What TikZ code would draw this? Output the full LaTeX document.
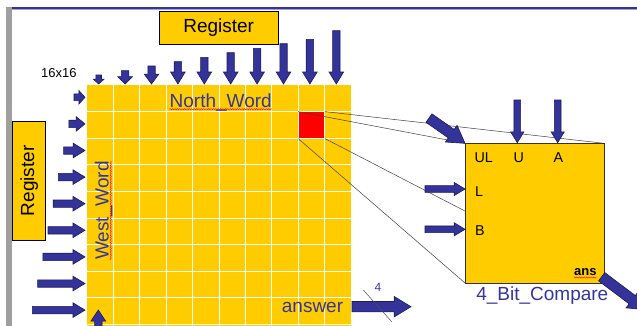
\documentclass[tikz,border=0pt]{standalone}
\usepackage{fontspec}
\setmainfont{Liberation Sans}
\usetikzlibrary{decorations.pathmorphing}

\definecolor{cellyellow}{HTML}{FFCC00}
\definecolor{arrowblue}{HTML}{333399}
\definecolor{arrowedge}{HTML}{1C1C5C}
\definecolor{textblue}{HTML}{3535A0}

\newcommand{\fatarrow}[4][1]{%
  \pgfmathsetmacro{\falen}{#4}%
  \pgfmathsetmacro{\fasc}{#1*min(1,\falen/12)}%
  \pgfmathsetmacro{\fahl}{min(12*\fasc,0.55*\falen)}%
  \pgfmathsetmacro{\fasw}{3.7*\fasc}%
  \pgfmathsetmacro{\fahw}{7.3*\fasc}%
  \begin{scope}[shift={#2},rotate=#3]
    \filldraw[fill=arrowblue,draw=arrowedge,line width=.6pt,line join=miter]
      (0,0) -- (-\fahl,\fahw) -- (-\fahl,\fasw) -- (-\falen,\fasw) -- (-\falen,-\fasw)
      -- (-\fahl,-\fasw) -- (-\fahl,-\fahw) -- cycle;
  \end{scope}}

\tikzset{
  register/.style={draw=black,fill=cellyellow,line width=.8pt,inner sep=0pt},
  wordlabel/.style={text=textblue,inner sep=0pt},
  port/.style={font=\fontsize{14.3}{16}\selectfont,inner sep=0pt},
  squiggle/.style={draw=red,line width=.4pt,decorate,decoration={snake,amplitude=.6pt,segment length=2.4pt}}
}

\begin{document}
\begin{tikzpicture}[x=1pt,y=-1pt,font=\fontsize{19}{22}\selectfont]

	\clip (0,0) rectangle (637,325);
	\fill[white] (0,0) rectangle (637,325);
	\fill[gray!75] (6,7) rectangle (12,330);
	\fill[arrowblue] (12,7) rectangle (640,8.6);
	\fill[arrowblue!45] (12,8.6) rectangle (640,9.6);

	\node (regtop) [register,minimum width=119.3pt,minimum height=33.3pt] at (218.7,27.7) {Register};
	\node (regleft) [register,rotate=90,minimum width=119.7pt,minimum height=33pt] at (29.2,180.9) {Register};
	\node (size) [font=\fontsize{13}{15}\selectfont,anchor=base] at (58.8,77.3) {16x16};

	\fill[cellyellow] (87,85) rectangle (351,340);
	\node (redcell) [fill=red,inner sep=0pt,minimum width=26.4pt,minimum height=26.6pt,anchor=north west] at (298.2,111.6) {};
	\foreach \i in {1,...,9}
		\draw[white,line width=.8pt] ({87+26.4*\i},85) -- ({87+26.4*\i},340);
	\foreach \j in {1,...,10}
		\draw[white,line width=.8pt] (87,{85+26.6*\j}) -- (351,{85+26.6*\j});

	\node (north) [wordlabel,anchor=base] at (220.7,107) {North\_Word};
	\node (west) [wordlabel,rotate=90,anchor=base] at (108.6,210.5) {West\_Word};
	\node (answer) [wordlabel,anchor=base] at (312.5,312.5) {answer};
	\draw[squiggle] ([yshift=-2.2pt]north.base west) -- ([yshift=-2.2pt]north.base east);
	\draw[squiggle] ([xshift=2.2pt]west.base west) -- ([xshift=2.2pt]west.base east);

	\foreach \arrlen [count=\i] in {9,13.3,18,22.3,26.7,31.3,35.7,40.3,44.7,53.3}
		{\fatarrow{({87+26.4*(\i-.5)-1.5},84)}{-90}{\arrlen}}
	\foreach \i in {1,...,9}
		{\fatarrow{(85,{85+26.6*(\i-.5)-1})}{0}{11+5.2*(\i-1)}}
	\fatarrow{(98.3,310)}{90}{20}

	\coordinate (cnw) at (465,143.3);
	\coordinate (cne) at (604,143.3);
	\coordinate (csw) at (465,283);
	\coordinate (cse) at (604,283);
	\draw[black!75,line width=.5pt] (redcell.north west) -- (cnw);
	\draw[black!75,line width=.5pt] (redcell.north east) -- (cne);
	\draw[black!75,line width=.5pt] (redcell.south west) -- (csw);
	\draw[black!75,line width=.5pt] (redcell.south east) -- (cse);
	\filldraw[fill=cellyellow,draw=black!80,line width=.8pt] (cnw) rectangle (cse);

	\node (pUL) [port,anchor=base west] at (474.3,162.7) {UL};
	\node (pU) [port,anchor=base] at (518.8,162.7) {U};
	\node (pA) [port,anchor=base] at (558.3,162.7) {A};
	\node (pL) [port,anchor=base west] at (475,196) {L};
	\node (pB) [port,anchor=base west] at (475,235) {B};
	\node (pans) [port,font=\fontsize{13}{15}\selectfont\bfseries,anchor=base] at (585.3,275) {ans};
	\draw[squiggle] ([yshift=-2.5pt]pans.base west) -- ([yshift=-2.5pt]pans.base east);
	\node (cmpname) [wordlabel,anchor=base] at (542.3,300.5) {4\_Bit\_Compare};

	\fatarrow[1.4]{(cnw)}{-35}{44}
	\fatarrow[.9]{(517.3,142.7)}{-90}{42.7}
	\fatarrow[.9]{(557.7,142.7)}{-90}{42.7}
	\fatarrow[.9]{(465,189)}{0}{40}
	\fatarrow[.9]{(465,229.3)}{0}{40}
	\fatarrow[1.4]{(645.6,309.8)}{-37}{55}

	\fatarrow[1.4]{(411,306.7)}{0}{59}
	\coordinate (bus1) at (363.3,290);
	\coordinate (bus2) at (391.7,321.7);
	\draw[black!70,line width=.5pt] (bus1) -- (bus2);
	\node (buswidth) [text=textblue,font=\fontsize{12}{14}\selectfont,inner sep=0pt,anchor=base] at (378,291) {4};

\end{tikzpicture}
\end{document}
